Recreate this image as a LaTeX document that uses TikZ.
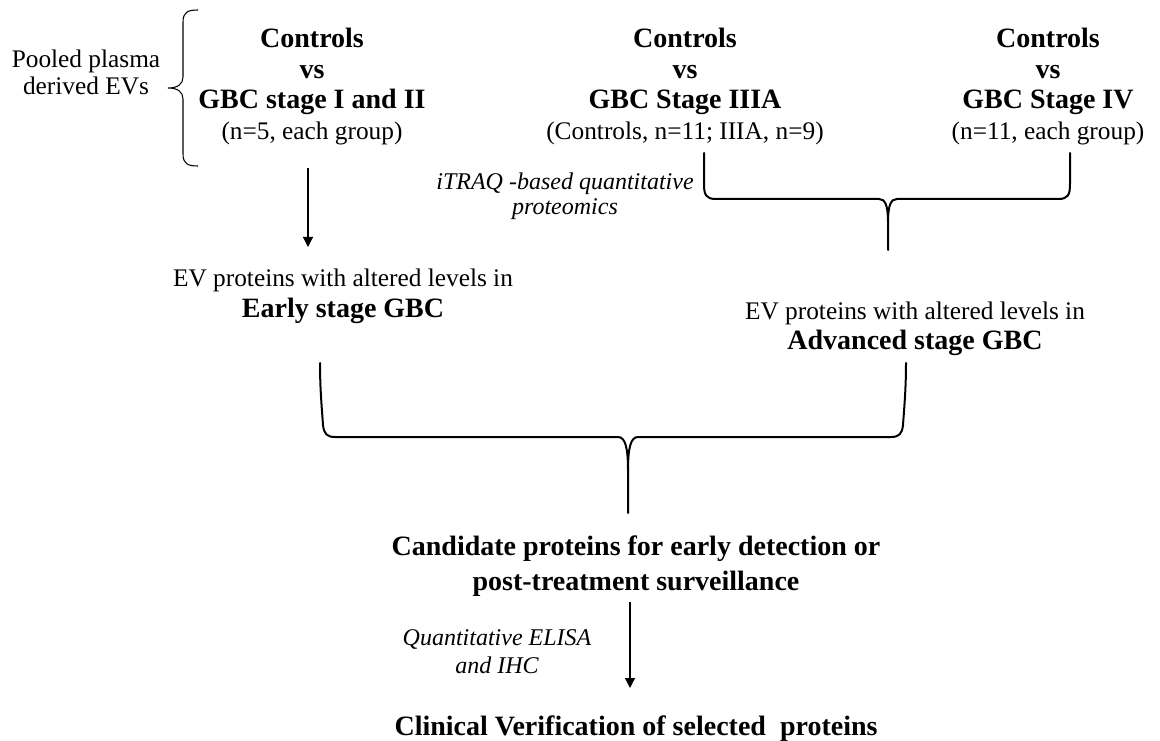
\documentclass[tikz,border=0pt]{standalone}
\usepackage{fontspec}
\setmainfont{Liberation Serif}
\usetikzlibrary{arrows.meta}
\tikzset{
  reg/.style={font=\fontsize{19}{22}\selectfont, inner sep=0pt, anchor=base},
  bld/.style={font=\bfseries\fontsize{21}{24}\selectfont, inner sep=0pt, anchor=base},
  itl/.style={font=\itshape\fontsize{18}{22}\selectfont, inner sep=0pt, anchor=base},
  thickbrace/.style={line width=1.5pt, line join=round, line cap=round},
  thinbrace/.style={line width=0.8pt},
  arr/.style={line width=0.9pt, -{Triangle[length=7.5pt,width=7.5pt]}},
}
\begin{document}
\begin{tikzpicture}[x=0.75pt,y=-0.75pt]
\useasboundingbox (0,0) rectangle (1160,741);
% left label and brace
\node[reg] (pool1) at (86,68) {Pooled plasma};
\node[reg] (pool2) at (86,95) {derived EVs};
\coordinate (lbtop) at (198,10);
\coordinate (lbtip) at (168,88);
\coordinate (lbbot) at (198,166);
\draw[thinbrace] (lbtop) .. controls (188,10) and (183,12) .. (183,22) -- (183,77)
  .. controls (183,84) and (178,88) .. (lbtip)
  .. controls (178,88) and (183,92) .. (183,99) -- (183,154)
  .. controls (183,164) and (188,166) .. (lbbot);
% top groups
\node[bld] (c1) at (312,48) {Controls};
\node[bld] (v1) at (312,78.5) {vs};
\node[bld] (g1) at (312,109) {GBC stage I and II};
\node[reg] (n1) at (312,139.5) {(n=5, each group)};
\node[bld] (c2) at (685,48) {Controls};
\node[bld] (v2) at (685,78.5) {vs};
\node[bld] (g2) at (685,109) {GBC Stage IIIA};
\node[reg] (n2) at (685,139.5) {(Controls, n=11; IIIA, n=9)};
\node[bld] (c3) at (1048,48) {Controls};
\node[bld] (v3) at (1048,78.5) {vs};
\node[bld] (g3) at (1048,109) {GBC Stage IV};
\node[reg] (n3) at (1048,139.5) {(n=11, each group)};
% arrow 1
\coordinate (a1s) at (308,168);
\coordinate (a1e) at (308,247);
\draw[arr] (a1s) -- (a1e);
% itraq label
\node[itl] (it1) at (565,190) {iTRAQ -based quantitative};
\node[itl] (it2) at (565,215) {proteomics};
% top brace
\coordinate (tbl) at (704,153);
\coordinate (tbr) at (1070,153);
\coordinate (tbc) at (888,250);
\draw[thickbrace] (tbl) -- (704,184) .. controls (704,195) and (706,199) .. (716,199)
  -- (879,199) .. controls (885,199) and (888,205) .. (888,222) -- (tbc);
\draw[thickbrace] (tbr) -- (1070,184) .. controls (1070,195) and (1068,199) .. (1058,199)
  -- (897,199) .. controls (891,199) and (888,205) .. (888,222);
% EV texts
\node[reg] (e1) at (343,287) {EV proteins with altered levels in};
\node[bld] (e2) at (343,318) {Early stage GBC};
\node[reg] (d1) at (915,320) {EV proteins with altered levels in};
\node[bld] (d2) at (915,350) {Advanced stage GBC};
% big brace
\coordinate (bbl) at (320,363);
\coordinate (bbr) at (906,363);
\coordinate (bbc) at (628,513);
\draw[thickbrace] (bbl) .. controls (320,390) and (322,410) .. (323,425)
  .. controls (324,434) and (327,437) .. (335,437)
  -- (618,437) .. controls (625,437) and (628,447) .. (628,470) -- (bbc);
\draw[thickbrace] (bbr) .. controls (906,390) and (904,410) .. (903,425)
  .. controls (902,434) and (899,437) .. (891,437)
  -- (638,437) .. controls (631,437) and (628,447) .. (628,470);
% candidate
\node[bld] (k1) at (636,555) {Candidate proteins for early detection or};
\node[bld] (k2) at (636,590) {post-treatment surveillance};
\node[itl] (q1) at (497,645) {Quantitative ELISA};
\node[itl] (q2) at (497,673) {and IHC};
\coordinate (a2s) at (630,602);
\coordinate (a2e) at (630,688);
\draw[arr] (a2s) -- (a2e);
\node[bld] (cl) at (636,735) {Clinical Verification of selected~ proteins};
\end{tikzpicture}
\end{document}
